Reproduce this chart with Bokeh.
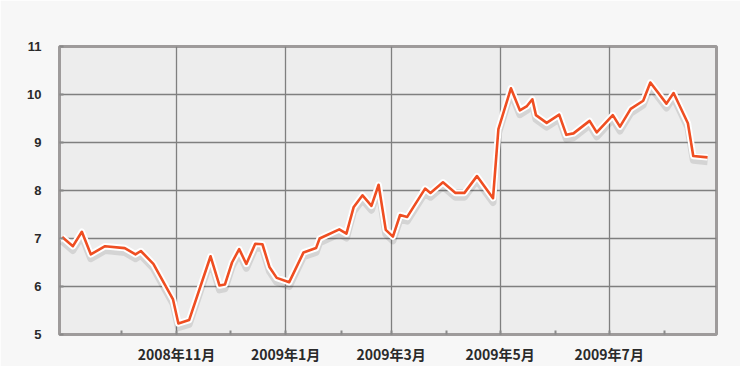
import pandas as pd
from bokeh.plotting import figure
from bokeh.models import Range1d, FixedTicker
from bokeh.embed import file_html
from bokeh.resources import INLINE

# ---- data ----
dates = ["2008-08-29", "2008-09-04", "2008-09-09", "2008-09-14", "2008-09-22",
         "2008-10-03", "2008-10-09", "2008-10-12", "2008-10-19", "2008-10-30",
         "2008-11-02", "2008-11-08", "2008-11-20", "2008-11-25", "2008-11-28",
         "2008-12-02", "2008-12-06", "2008-12-10", "2008-12-15", "2008-12-19",
         "2008-12-23", "2008-12-27", "2009-01-03", "2009-01-11", "2009-01-18",
         "2009-01-20", "2009-01-31", "2009-02-04", "2009-02-08", "2009-02-13",
         "2009-02-18", "2009-02-22", "2009-02-26", "2009-03-02", "2009-03-06",
         "2009-03-10", "2009-03-20", "2009-03-23", "2009-03-30", "2009-04-06",
         "2009-04-11", "2009-04-18", "2009-04-27", "2009-04-30", "2009-05-07",
         "2009-05-12", "2009-05-16", "2009-05-19", "2009-05-21", "2009-05-27",
         "2009-06-03", "2009-06-07", "2009-06-11", "2009-06-20", "2009-06-24",
         "2009-07-03", "2009-07-07", "2009-07-13", "2009-07-20", "2009-07-24",
         "2009-08-02", "2009-08-06", "2009-08-14", "2009-08-17", "2009-08-25"]
values = [7.03, 6.84, 7.14, 6.67, 6.84,
          6.80, 6.67, 6.74, 6.47, 5.73,
          5.23, 5.30, 6.63, 6.02, 6.04,
          6.50, 6.78, 6.47, 6.89, 6.88,
          6.40, 6.18, 6.09, 6.71, 6.80,
          7.00, 7.19, 7.10, 7.65, 7.90,
          7.68, 8.12, 7.18, 7.04, 7.49,
          7.45, 8.04, 7.95, 8.17, 7.95,
          7.95, 8.30, 7.84, 9.28, 10.13,
          9.67, 9.76, 9.90, 9.57, 9.41,
          9.58, 9.16, 9.19, 9.45, 9.21,
          9.57, 9.33, 9.70, 9.87, 10.25,
          9.81, 10.03, 9.40, 8.72, 8.69]

month_starts = ["2008-10-01", "2008-11-01", "2008-12-01", "2009-01-01", "2009-02-01",
                "2009-03-01", "2009-04-01", "2009-05-01", "2009-06-01", "2009-07-01",
                "2009-08-01"]
month_labels = ["", "2008年11月", "", "2009年1月", "",
                "2009年3月", "", "2009年5月", "", "2009年7月", ""]
y_ticks = [5, 6, 7, 8, 9, 10, 11]

x = pd.to_datetime(dates)


def ms(s):
    return float(pd.Timestamp(s).value // 10**6)


tick_ms = [ms(s) for s in month_starts]
grid_ms = [t for t, lab in zip(tick_ms, month_labels) if lab]

p = figure(width=740, height=366, output_backend="svg", toolbar_location=None,
           x_axis_type="datetime",
           x_range=Range1d(ms("2008-08-27 12:00"), ms("2009-08-30")),
           y_range=Range1d(5, 11),
           min_border_left=59, min_border_right=24, min_border_top=46,
           min_border_bottom=27)

p.border_fill_color = "#f7f7f7"
p.background_fill_color = "#ededed"
p.outline_line_color = "#9e9b9b"
p.outline_line_width = 3

# axes
p.xaxis.ticker = FixedTicker(ticks=tick_ms)
p.xaxis.major_label_overrides = {t: lab for t, lab in zip(tick_ms, month_labels)}
p.xaxis.axis_line_color = None
p.xaxis.major_tick_in = 4
p.xaxis.major_tick_out = 0
p.xaxis.major_tick_line_color = "#8a8a8a"
p.xaxis.major_tick_line_width = 2
p.xaxis.minor_tick_line_color = None
p.xaxis.major_label_standoff = 9
p.xaxis.major_label_text_font = "Noto Sans CJK JP"
p.xaxis.major_label_text_font_style = "bold"
p.xaxis.major_label_text_font_size = "14px"
p.xaxis.major_label_text_color = "#2a2a2a"

p.yaxis.ticker = FixedTicker(ticks=y_ticks)
p.yaxis.axis_line_color = None
p.yaxis.major_tick_in = 4
p.yaxis.major_tick_out = 0
p.yaxis.major_tick_line_color = "#8a8a8a"
p.yaxis.major_tick_line_width = 2
p.yaxis.minor_tick_line_color = None
p.yaxis.major_label_standoff = 18
p.yaxis.major_label_text_font = "Liberation Sans"
p.yaxis.major_label_text_font_style = "bold"
p.yaxis.major_label_text_font_size = "13px"
p.yaxis.major_label_text_color = "#2a2a2a"

# grids
p.xgrid.ticker = FixedTicker(ticks=grid_ms)
p.xgrid.grid_line_color = "#7f7f7f"
p.xgrid.grid_line_width = 1.3
p.ygrid.ticker = FixedTicker(ticks=y_ticks[1:-1])
p.ygrid.grid_line_color = "#7f7f7f"
p.ygrid.grid_line_width = 1.3

# soft shadow of the line (same data on a slightly shifted range)
p.extra_y_ranges = {"shadow": Range1d(5 + 0.09, 11 + 0.09)}
p.line(x, values, y_range_name="shadow", line_color="#000000", line_alpha=0.10,
       line_width=7, line_join="round")
# white halo + orange line
p.line(x, values, line_color="#ffffff", line_width=6.5, line_join="round")
p.line(x, values, line_color="#ef4e22", line_width=2.6, line_join="round")

open("out.html", "w").write(file_html(p, INLINE))
